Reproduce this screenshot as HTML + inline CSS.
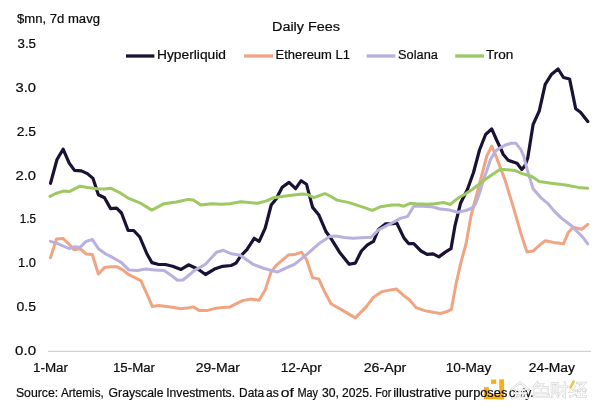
<!DOCTYPE html>
<html><head><meta charset="utf-8"><style>
html,body{margin:0;padding:0;background:#fff;width:600px;height:411px;overflow:hidden}
svg{display:block}
text{font-family:"Liberation Sans", sans-serif;fill:#0a0a0a;stroke:#0a0a0a;stroke-width:0.2px}
</style></head><body>
<svg width="600" height="411" viewBox="0 0 600 411">
<rect width="600" height="411" fill="#fff"/>
<text x="17" y="23.2" font-size="12" text-anchor="start" textLength="83" lengthAdjust="spacingAndGlyphs" >$mn, 7d mavg</text>
<text x="272" y="31.4" font-size="12.5" text-anchor="start" textLength="68" lengthAdjust="spacingAndGlyphs" >Daily Fees</text>
<g stroke-width="3.3" stroke-linecap="butt">
<line x1="126" y1="56" x2="154.4" y2="56" stroke="#1a1134"/>
<line x1="244" y1="56" x2="273" y2="56" stroke="#f1a482"/>
<line x1="366.7" y1="56" x2="395.5" y2="56" stroke="#b8b1df"/>
<line x1="455.2" y1="56" x2="484" y2="56" stroke="#9ec862"/>
</g>
<text x="157" y="59" font-size="12" text-anchor="start" textLength="69" lengthAdjust="spacingAndGlyphs" >Hyperliquid</text>
<text x="275.6" y="59" font-size="12" text-anchor="start" textLength="74.4" lengthAdjust="spacingAndGlyphs" >Ethereum L1</text>
<text x="398.1" y="59" font-size="12" text-anchor="start" textLength="39.8" lengthAdjust="spacingAndGlyphs" >Solana</text>
<text x="485.9" y="59" font-size="12" text-anchor="start" textLength="27.4" lengthAdjust="spacingAndGlyphs" >Tron</text>
<text x="36" y="355.1" font-size="12" text-anchor="end" textLength="20.9" lengthAdjust="spacingAndGlyphs" >0.0</text><text x="36" y="311.2" font-size="12" text-anchor="end" textLength="19.5" lengthAdjust="spacingAndGlyphs" >0.5</text><text x="36" y="267.3" font-size="12" text-anchor="end" textLength="17.9" lengthAdjust="spacingAndGlyphs" >1.0</text><text x="36" y="223.4" font-size="12" text-anchor="end" textLength="16.2" lengthAdjust="spacingAndGlyphs" >1.5</text><text x="36" y="179.5" font-size="12" text-anchor="end" textLength="20.5" lengthAdjust="spacingAndGlyphs" >2.0</text><text x="36" y="135.6" font-size="12" text-anchor="end" textLength="19.2" lengthAdjust="spacingAndGlyphs" >2.5</text><text x="36" y="91.7" font-size="12" text-anchor="end" textLength="20.5" lengthAdjust="spacingAndGlyphs" >3.0</text><text x="36" y="47.8" font-size="12" text-anchor="end" textLength="18.5" lengthAdjust="spacingAndGlyphs" >3.5</text>
<line x1="48" y1="351.4" x2="591" y2="351.4" stroke="#d2d2d2" stroke-width="1.1"/>
<text x="33" y="372" font-size="12" text-anchor="start" textLength="35" lengthAdjust="spacingAndGlyphs" >1-Mar</text><text x="113" y="372" font-size="12" text-anchor="start" textLength="42" lengthAdjust="spacingAndGlyphs" >15-Mar</text><text x="195.75" y="372" font-size="12" text-anchor="start" textLength="44.25" lengthAdjust="spacingAndGlyphs" >29-Mar</text><text x="280.75" y="372" font-size="12" text-anchor="start" textLength="41.0" lengthAdjust="spacingAndGlyphs" >12-Apr</text><text x="363.75" y="372" font-size="12" text-anchor="start" textLength="42.5" lengthAdjust="spacingAndGlyphs" >26-Apr</text><text x="445.75" y="372" font-size="12" text-anchor="start" textLength="45.5" lengthAdjust="spacingAndGlyphs" >10-May</text><text x="528.75" y="372" font-size="12" text-anchor="start" textLength="46.25" lengthAdjust="spacingAndGlyphs" >24-May</text>
<g fill="none" stroke-linejoin="round" stroke-linecap="round">
<polyline points="50.5,183.3 57.0,159.5 63.1,149.2 69.2,163.1 74.5,170.4 81.4,170.9 87.4,173.6 93.0,178.4 98.4,194.7 104.5,197.7 110.6,208.6 116.6,208.1 121.5,213 128.1,230.5 133.7,230.5 139.8,237 147,254 151.9,262.6 158,264.3 165.3,264.5 172.6,266.2 181.1,269.4 188.5,264.8 198.2,269.2 205.5,274.5 215.3,268.7 222.6,266.3 231.1,265.5 236,263.1 240.8,255.8 246.9,249.7 254.2,238.3 259.1,241.5 265.2,228.1 271.2,205 276.1,198.9 282.2,187.3 289,182.4 295.6,188.7 301.2,180.7 306.5,184.3 312.6,207.4 318.7,214.7 326.1,231.8 332.2,240.3 339.5,252.2 349.2,264.3 355.3,263.1 361.4,251 367.4,244.9 373.5,241.3 378.4,229.5 385.7,223.8 393,223.7 396.6,222.8 403.9,237.9 408.8,243.7 413.7,243.7 421,251 427.1,254.4 433.1,253.9 438.9,256.9 445.3,252.1 451,248.6 455,225.7 460.5,203.3 467.4,189.5 473.5,172.5 479.5,150 485.6,134.5 491.7,128.9 496.6,140 500.9,149 503.3,154.5 508.2,160.3 514,162.2 517,163.2 521.8,169.5 524.7,166.1 527.7,158.3 533.1,124.5 539.2,111.1 545.2,84.3 551.3,74.6 558.1,69 563.5,77.5 569.6,79 575.7,108.7 580.5,112.3 587.8,121.6" stroke="#1a1134" stroke-width="3.2"/>
<polyline points="50.5,257.7 56.5,239 63.1,238.5 69.2,244.3 74,249.7 80.1,248.7 86.2,254 92.3,254.5 98.4,274 104.5,267.4 110.6,266.7 116.6,266.7 122.7,269.9 128.8,274.7 134.9,277.7 141,280.8 147,294.2 152.4,306.6 159.2,305.6 166.5,306.4 173.8,307.6 181.1,308.8 187.3,308.1 193.4,306.9 199.5,310.6 206.8,310.6 214.1,308.6 222.6,307.6 229.9,306.9 242,300.8 250.6,299.1 259.1,300.3 265.2,289.9 271.2,271.6 277.3,264.3 288.3,255.1 294.4,254.6 301.7,252.2 306.5,259.5 312.6,277.7 318.7,278.9 324.9,292.3 331,303.7 343.1,310.6 355.3,317.9 366.2,306.9 373.5,297.2 382,291.6 390.6,289.9 396.6,289.1 402.7,294.7 410,300.3 416.1,307.6 424.6,310.6 434.4,312.5 440.4,313.5 446.5,311.8 451.4,309.3 456.3,282.6 461.1,261.9 466,244 471,216 478.3,188.5 486.8,156 491.7,146.1 495.4,154.6 505.1,180.1 513.6,208.1 520.9,233.4 527,252.1 533.1,251.1 539.2,245.5 545.2,240.7 553.8,242.4 563.5,243.8 568.4,232.2 573.2,227.3 581.7,229.2 587.8,224.4" stroke="#f1a482" stroke-width="3"/>
<polyline points="50.5,241.4 56.5,243.1 63.1,246 69.2,248.7 74,246.8 80.1,247.3 86.2,241.4 92.3,239.5 98.4,248.7 105.7,254 113,257.7 121.5,262.6 128.8,269.9 137.3,270.4 145.8,269.1 154.4,269.9 164.1,270.6 171.4,275.5 177.5,280.3 183,280 187.3,276.5 194.6,270.4 205.5,264.3 216.5,252.3 223.5,250.3 230.5,253.5 240.2,255.3 253,264.3 262.7,268 277.3,272.1 284.6,268.7 294.4,264.3 306.5,254.6 319.9,242.9 329.7,236.6 335.8,235.9 344.3,237.4 352.8,238.3 361.4,237.8 371.1,237.3 378.4,230 390.6,223.7 400.3,218.4 407.6,216.4 413.7,206.2 422.2,206.2 431.9,206.7 439.2,208.7 449,209.9 457.5,212.3 466,210.5 471,208.5 475.4,204.2 479.4,193.5 483.4,180.1 486.8,170.7 490.5,159.5 495.6,151 500.4,147.6 506.3,144.7 511.1,143.3 516,143.3 520.9,149.6 523.8,156.4 525.7,164.2 528.2,172.8 533.1,188.7 541.6,198.4 547.7,203.3 553.8,210.6 561.1,217.9 570.8,225.2 578.1,232.5 581.7,235.8 587.8,243.8" stroke="#b8b1df" stroke-width="3"/>
<polyline points="50,196.4 55.8,193.5 63.1,191.1 69.2,191.6 80.1,186.2 87.4,187.4 97.2,188.7 104.5,189.1 110.6,188.2 119.1,192.3 128.8,198.4 139.8,202.8 151.9,210.1 164.1,203.7 176.3,202 188.5,199.4 193.4,200.1 200.7,205 211.6,203.8 221.4,204.3 229.9,203.8 240.8,201.8 249.3,202.6 257.9,203.3 266.4,200.9 273.7,197.7 282.2,196.5 291.9,195.3 301.7,194.1 307.7,194.5 313.8,197.7 319.9,195.3 324.9,193.6 331,196.5 337,200.1 349.2,202.6 361.4,206.7 372.3,210.4 380.8,206.7 391.8,205 399.1,205 403.9,206.2 410,203.3 416.1,203.8 427.1,204.3 434.4,203.8 444.1,202.6 450.2,204.5 458.7,197.7 466,193.6 472.2,189.5 484.4,180 500.2,169.2 514.8,170.4 522.1,173.6 531.9,176.5 539.2,181.4 551.3,183.3 565.9,185 578.1,187.4 587.8,188.2" stroke="#9ec862" stroke-width="3"/>
</g>
<text x="15.9" y="396.6" font-size="12.5" text-anchor="start" textLength="42.4" lengthAdjust="spacingAndGlyphs" >Source:</text><text x="60.9" y="396.6" font-size="12.5" text-anchor="start" textLength="42.9" lengthAdjust="spacingAndGlyphs" >Artemis,</text><text x="108.6" y="396.6" font-size="12.5" text-anchor="start" textLength="54.9" lengthAdjust="spacingAndGlyphs" >Grayscale</text><text x="166.2" y="396.6" font-size="12.5" text-anchor="start" textLength="68.9" lengthAdjust="spacingAndGlyphs" >Investments.</text><text x="239.1" y="396.6" font-size="12.5" text-anchor="start" textLength="25.1" lengthAdjust="spacingAndGlyphs" >Data</text><text x="266.1" y="396.6" font-size="12.5" text-anchor="start" textLength="12.7" lengthAdjust="spacingAndGlyphs" >as</text><text x="280.8" y="396.6" font-size="12.5" text-anchor="start" textLength="13.1" lengthAdjust="spacingAndGlyphs" >of</text><text x="297.4" y="396.6" font-size="12.5" text-anchor="start" textLength="20.7" lengthAdjust="spacingAndGlyphs" >May</text><text x="321.9" y="396.6" font-size="12.5" text-anchor="start" textLength="17.0" lengthAdjust="spacingAndGlyphs" >30,</text><text x="341.9" y="396.6" font-size="12.5" text-anchor="start" textLength="30.4" lengthAdjust="spacingAndGlyphs" >2025.</text><text x="375.2" y="396.6" font-size="12.5" text-anchor="start" textLength="16.2" lengthAdjust="spacingAndGlyphs" >For</text><text x="393.15" y="396.6" font-size="12.5" text-anchor="start" textLength="58.2" lengthAdjust="spacingAndGlyphs" >illustrative</text><text x="454.65" y="396.6" font-size="12.5" text-anchor="start" textLength="52.65" lengthAdjust="spacingAndGlyphs" >purposes</text><text x="509.1" y="396.6" font-size="12.5" text-anchor="start" textLength="24.5" lengthAdjust="spacingAndGlyphs" >only.</text>
<g fill="#f7ae1c" style="mix-blend-mode:multiply">
<rect x="491.1" y="379.5" width="5.1" height="4.4"/>
<rect x="499.2" y="379.3" width="4.9" height="20"/>
<rect x="483.8" y="394.4" width="20.3" height="4.9"/>
<rect x="483.8" y="387.1" width="5.1" height="8"/>
</g>
<g transform="translate(511.3,382.6) scale(0.87,0.97)"><path d="M10 0 L0 7 M10 0 L20 7 M5 7.5 H15 M3 11 H17 M10 7.5 V16 M6 12.5 L7 14 M14 12.5 L13 14 M1 16 H19" fill="none" stroke="#d6d6d6" stroke-width="2.4" stroke-linecap="square"/><path d="M10 0 L0 7 M10 0 L20 7 M5 7.5 H15 M3 11 H17 M10 7.5 V16 M6 12.5 L7 14 M14 12.5 L13 14 M1 16 H19" fill="none" stroke="#fdfdfd" stroke-width="1.1"/></g><g transform="translate(532.2,382.4) scale(0.87,0.97)"><path d="M6 0 L2 4 M5 2 H12 L9 5 M2 5 H18 V11 H2 Z M10 5 V11 M2 11 V15 H19 V13" fill="none" stroke="#d6d6d6" stroke-width="2.4" stroke-linecap="square"/><path d="M6 0 L2 4 M5 2 H12 L9 5 M2 5 H18 V11 H2 Z M10 5 V11 M2 11 V15 H19 V13" fill="none" stroke="#fdfdfd" stroke-width="1.1"/></g><g transform="translate(550.9,382.3) scale(0.87,0.97)"><path d="M1 1 H8 V10 H1 Z M4.5 3 V9 M3 11 L1 15 M6 11 L8 15 M9 4.5 H19 M16 0 V15 L14 14 M16 6 L9 13" fill="none" stroke="#d6d6d6" stroke-width="2.4" stroke-linecap="square"/><path d="M1 1 H8 V10 H1 Z M4.5 3 V9 M3 11 L1 15 M6 11 L8 15 M9 4.5 H19 M16 0 V15 L14 14 M16 6 L9 13" fill="none" stroke="#fdfdfd" stroke-width="1.1"/></g><g transform="translate(569.3,382) scale(0.87,0.97)"><path d="M5 0 L2 5 H6 L1 10 L7 9 M1 15 L7 13 M9 1 H18 L10 8 M12 3 L19 8 M10 10.5 H18 M14 8.5 V15 M9 15 H19" fill="none" stroke="#d6d6d6" stroke-width="2.4" stroke-linecap="square"/><path d="M5 0 L2 5 H6 L1 10 L7 9 M1 15 L7 13 M9 1 H18 L10 8 M12 3 L19 8 M10 10.5 H18 M14 8.5 V15 M9 15 H19" fill="none" stroke="#fdfdfd" stroke-width="1.1"/></g><path d="M573.5 381.5 L570.5 387.5" stroke="#e9c94a" stroke-width="2.6" stroke-linecap="round"/>
</svg>
</body></html>
